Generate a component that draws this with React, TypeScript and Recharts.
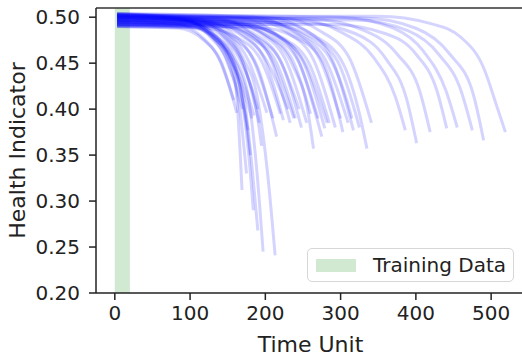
import { LineChart, Line, XAxis, YAxis, ReferenceArea, ReferenceLine } from "recharts"

// axis ticks
const xTicks = [0, 100, 200, 300, 400, 500]
const yTicks = [0.2, 0.25, 0.3, 0.35, 0.4, 0.45, 0.5]
// training window shaded in green (time units)
const trainingWindow = [0, 20]

// health indicator curves, [time, value]
// units that fail early (steep drop)
const earlyUnits: number[][][] = [
  [[3, 0.503], [90, 0.499], [125, 0.486], [148, 0.462], [160, 0.43], [169, 0.312]],
  [[3, 0.492], [100, 0.49], [135, 0.479], [160, 0.455], [178, 0.41], [189, 0.33], [197, 0.245]],
  [[3, 0.499], [110, 0.496], [145, 0.483], [170, 0.456], [190, 0.41], [203, 0.33], [213, 0.241]],
  [[3, 0.495], [95, 0.492], [130, 0.478], [155, 0.452], [172, 0.41], [182, 0.34], [190, 0.268]],
  [[3, 0.501], [95, 0.496], [128, 0.481], [152, 0.455], [168, 0.415], [178, 0.35], [184, 0.29]],
  [[3, 0.49], [85, 0.488], [118, 0.475], [142, 0.45], [162, 0.396]],
  [[3, 0.497], [100, 0.494], [135, 0.479], [158, 0.452], [177, 0.377]],
  [[3, 0.502], [115, 0.497], [150, 0.482], [178, 0.452], [202, 0.396]],
  [[3, 0.494], [120, 0.491], [158, 0.477], [190, 0.445], [215, 0.37]],
  [[3, 0.5], [95, 0.496], [128, 0.48], [150, 0.452], [170, 0.4]],
  [[3, 0.493], [100, 0.49], [135, 0.477], [162, 0.448], [185, 0.393]],
  [[3, 0.498], [110, 0.495], [145, 0.481], [170, 0.452], [192, 0.385]],
  [[3, 0.496], [80, 0.493], [115, 0.479], [140, 0.452], [158, 0.41]],
  [[3, 0.504], [90, 0.498], [125, 0.48], [150, 0.45], [166, 0.4], [175, 0.33]],
  [[3, 0.491], [100, 0.489], [132, 0.477], [158, 0.448], [172, 0.4], [180, 0.35]],
  [[3, 0.5], [110, 0.496], [145, 0.479], [172, 0.446], [188, 0.4], [195, 0.36]],
  [[3, 0.495], [105, 0.493], [140, 0.481], [165, 0.456], [183, 0.42], [190, 0.4]],
  [[3, 0.502], [95, 0.497], [130, 0.481], [155, 0.455], [175, 0.41], [182, 0.39]],
]

// units failing between ~200 and ~350
const midUnits: number[][][] = [
  [[3, 0.497], [130, 0.494], [170, 0.481], [200, 0.452], [224, 0.388]],
  [[3, 0.503], [135, 0.499], [178, 0.484], [208, 0.453], [233, 0.385]],
  [[3, 0.492], [145, 0.49], [190, 0.477], [222, 0.449], [248, 0.38]],
  [[3, 0.499], [150, 0.496], [200, 0.481], [236, 0.448], [256, 0.4], [264, 0.357]],
  [[3, 0.494], [165, 0.493], [215, 0.48], [250, 0.452], [279, 0.379]],
  [[3, 0.501], [180, 0.498], [230, 0.483], [265, 0.452], [293, 0.38]],
  [[3, 0.49], [190, 0.489], [240, 0.478], [276, 0.452], [303, 0.375]],
  [[3, 0.504], [200, 0.5], [255, 0.485], [290, 0.452], [317, 0.377]],
  [[3, 0.496], [210, 0.495], [265, 0.48], [303, 0.45], [325, 0.395], [335, 0.357]],
  [[3, 0.5], [220, 0.499], [275, 0.484], [312, 0.455], [341, 0.385]],
  [[3, 0.493], [140, 0.491], [182, 0.478], [215, 0.45], [240, 0.39]],
  [[3, 0.498], [150, 0.495], [196, 0.481], [228, 0.452], [255, 0.385]],
  [[3, 0.502], [165, 0.499], [210, 0.484], [243, 0.455], [270, 0.39]],
  [[3, 0.491], [175, 0.49], [224, 0.477], [258, 0.45], [285, 0.385]],
  [[3, 0.497], [125, 0.494], [165, 0.482], [200, 0.455], [230, 0.4]],
  [[3, 0.495], [155, 0.493], [200, 0.481], [235, 0.455], [260, 0.395]],
  [[3, 0.503], [185, 0.5], [236, 0.484], [272, 0.455], [300, 0.39]],
  [[3, 0.499], [195, 0.497], [245, 0.481], [282, 0.45], [310, 0.385]],
  [[3, 0.493], [205, 0.492], [258, 0.48], [296, 0.452], [325, 0.38]],
  [[3, 0.501], [140, 0.497], [183, 0.483], [218, 0.456], [245, 0.4]],
  [[3, 0.49], [120, 0.488], [162, 0.478], [195, 0.452], [220, 0.395]],
  [[3, 0.498], [160, 0.496], [208, 0.481], [245, 0.45], [265, 0.4], [275, 0.37]],
  [[3, 0.504], [115, 0.498], [155, 0.483], [185, 0.452], [210, 0.39]],
  [[3, 0.494], [170, 0.492], [220, 0.478], [254, 0.448], [282, 0.385]],
  [[3, 0.5], [135, 0.496], [175, 0.482], [210, 0.452], [238, 0.39]],
  [[3, 0.496], [200, 0.495], [250, 0.481], [288, 0.452], [308, 0.41], [315, 0.39]],
]

// long-lived units
const lateUnits: number[][][] = [
  [[3, 0.502], [240, 0.498], [300, 0.484], [345, 0.455], [372, 0.415], [386, 0.377]],
  [[3, 0.495], [250, 0.494], [320, 0.482], [360, 0.455], [388, 0.41], [401, 0.363]],
  [[3, 0.5], [260, 0.498], [330, 0.486], [375, 0.46], [405, 0.42], [419, 0.375]],
  [[3, 0.492], [290, 0.492], [360, 0.482], [400, 0.46], [428, 0.42], [441, 0.379]],
  [[3, 0.503], [300, 0.5], [370, 0.488], [410, 0.463], [440, 0.42], [455, 0.38]],
  [[3, 0.497], [320, 0.497], [390, 0.485], [430, 0.46], [460, 0.42], [475, 0.377]],
  [[3, 0.499], [330, 0.499], [400, 0.488], [445, 0.46], [476, 0.417], [490, 0.366]],
  [[3, 0.501], [350, 0.501], [420, 0.493], [460, 0.478], [490, 0.445], [508, 0.402], [519, 0.375]],
]

const allUnits = [...earlyUnits, ...midUnits, ...lateUnits].map((pts) =>
  pts.map(([t, v]) => ({ t, v }))
)

const font = "DejaVu Sans, sans-serif"

export default function App() {
  return (
    <div
      style={{
        position: "absolute",
        left: 0,
        top: 0,
        width: 522,
        height: 360,
        overflow: "hidden",
        background: "#fff",
        fontFamily: font,
      }}
    >
      <LineChart width={526} height={360} margin={{ top: 8, right: 1, bottom: 0, left: 0 }}>
        <XAxis
          type="number"
          dataKey="t"
          domain={[-25, 545]}
          ticks={xTicks}
          allowDataOverflow
          height={67}
          tickSize={7}
          tickMargin={6}
          stroke="#222"
          strokeWidth={1.5}
          tick={{ fontSize: 20, fill: "#222", fontFamily: font }}
          label={{ value: "Time Unit", position: "insideBottom", offset: 8, fontSize: 22, fill: "#222", fontFamily: font }}
        />
        <YAxis
          type="number"
          dataKey="v"
          domain={[0.2, 0.51]}
          ticks={yTicks}
          allowDataOverflow
          width={96}
          tickSize={7}
          tickMargin={9}
          stroke="#222"
          strokeWidth={1.5}
          tickFormatter={(v: number) => v.toFixed(2)}
          tick={{ fontSize: 20, fill: "#222", fontFamily: font }}
          label={{
            value: "Health Indicator",
            angle: -90,
            position: "insideLeft",
            offset: 17,
            fontSize: 22,
            fill: "#222",
            fontFamily: font,
            style: { textAnchor: "middle" },
          }}
        />
        <ReferenceArea
          x1={trainingWindow[0]}
          x2={trainingWindow[1]}
          y1={0.2}
          y2={0.51}
          fill="green"
          fillOpacity={0.18}
          stroke="none"
        />
        <ReferenceLine y={0.51} stroke="#333" strokeWidth={1.5} />
        {allUnits.map((rows, i) => (
          <Line
            key={`unit-${i}`}
            data={rows}
            dataKey="v"
            type="monotone"
            stroke="#0000ff"
            strokeOpacity={0.17}
            strokeWidth={3}
            dot={false}
            activeDot={false}
            isAnimationActive={false}
          />
        ))}
      </LineChart>
      <div
        style={{
          position: "absolute",
          left: 307,
          top: 248,
          width: 207,
          height: 34,
          boxSizing: "border-box",
          border: "1px solid #d6d6d6",
          borderRadius: 5,
          background: "rgba(255,255,255,0.8)",
          display: "flex",
          alignItems: "center",
        }}
      >
        <div
          style={{
            marginLeft: 8,
            width: 40,
            height: 13,
            background: "rgba(0,128,0,0.18)",
          }}
        />
        <span style={{ marginLeft: 17, fontSize: 20, color: "#222", whiteSpace: "nowrap" }}>
          Training Data
        </span>
      </div>
    </div>
  )
}
